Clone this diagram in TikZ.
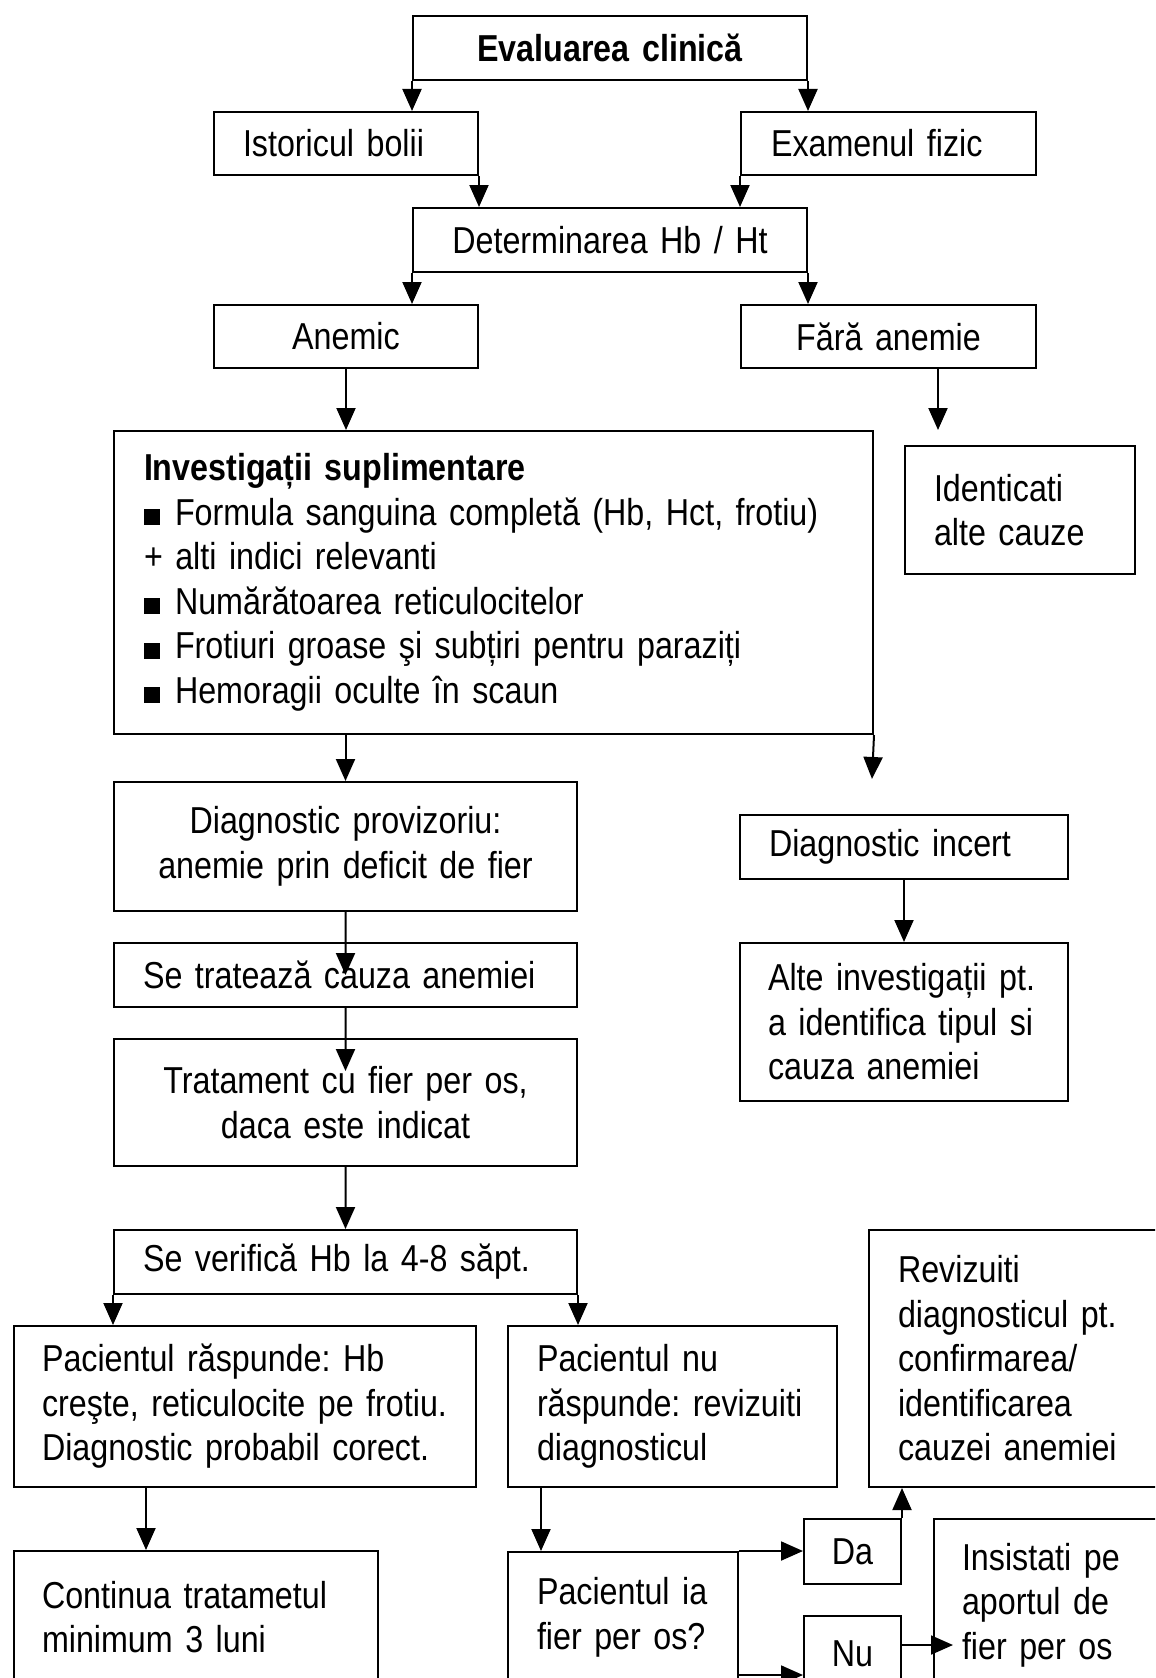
\documentclass[tikz,border=0pt]{standalone}
\usepackage{fontspec}
\setmainfont{Liberation Sans}[FakeStretch=0.86]
\usetikzlibrary{arrows.meta,calc}
\newcommand{\bul}{\rule{16bp}{16bp}\hspace{15bp}}
\frenchspacing
\begin{document}
\begin{tikzpicture}[x=1bp,y=-1bp,
  box/.style={draw,line width=2bp,inner ysep=0pt,anchor=north west,
    font=\fontsize{37.5bp}{44.5bp}\selectfont\frenchspacing},
  arr/.style={line width=2bp,-{Triangle[length=22bp,width=19bp]}}]
\useasboundingbox (0,0) rectangle (1155,1678);
\fill[white] (0,0) rectangle (1155,1678);
\clip (0,0) rectangle (1155,1678);

\node[box,inner xsep=10bp,text width=374bp,minimum height=64bp,align=center,font=\fontsize{37.5bp}{44.5bp}\selectfont\bfseries] (eval) at (412,15) {Evaluarea clinică};
\node[box,inner xsep=29bp,text width=206bp,minimum height=63bp,align=left] (ist) at (213,111) {Istoricul bolii};
\node[box,inner xsep=30bp,text width=235bp,minimum height=63bp,align=left] (exam) at (740,111) {Examenul fizic};
\node[box,inner xsep=10bp,text width=374bp,minimum height=64bp,align=center] (det) at (412,207) {Determinarea Hb / Ht};
\node[box,inner xsep=10bp,text width=244bp,minimum height=63bp,align=center] (anem) at (213,304) {Anemic};
\node[box,inner xsep=10bp,text width=275bp,minimum height=63bp,align=center] (fara) at (740,304) {Fără anemie};
\node[box,inner xsep=30bp,text width=699bp,minimum height=303bp,align=left] (inv) at (113,430) {\textbf{Investigații suplimentare}\\
\mbox{\bul Formula sanguina completă (Hb, Hct, frotiu)}\\
+ alti indici relevanti\\
\bul Numărătoarea reticulocitelor\\
\bul Frotiuri groase şi subțiri pentru paraziți\\
\bul Hemoragii oculte în scaun};
\node[box,inner xsep=29bp,text width=172bp,minimum height=128bp,align=left] (ident) at (904,445) {Identicati\\alte cauze};
\node[box,inner xsep=10bp,text width=443bp,minimum height=129bp,align=center] (diagp) at (113,781) {Diagnostic provizoriu:\\anemie prin deficit de fier};
\node[box,inner xsep=29bp,text width=270bp,minimum height=64bp,align=left] (diagi) at (739,814) {Diagnostic incert};
\node[box,inner xsep=28bp,text width=272bp,minimum height=158bp,align=left] (alte) at (739,942) {\makebox[272bp][s]{Alte investigații pt.}\\\makebox[272bp][s]{a identifica tipul si}\\cauza anemiei};
\node[box,inner xsep=29bp,text width=405bp,minimum height=64bp,align=left] (setrat) at (113,942) {Se tratează cauza anemiei};
\node[box,inner xsep=10bp,text width=443bp,minimum height=127bp,align=center] (trat) at (113,1038) {Tratament cu fier per os,\\daca este indicat};
\node[box,inner xsep=29bp,text width=405bp,minimum height=64bp,align=left] (verif) at (113,1229) {Se verifică Hb la 4-8 săpt.};
\node[box,inner xsep=28bp,text width=406bp,minimum height=161bp,align=left] (pacr) at (13,1325) {\mbox{Pacientul răspunde: Hb}\\\mbox{creşte, reticulocite pe frotiu.}\\\mbox{Diagnostic probabil corect.}};
\node[box,inner xsep=29bp,text width=271bp,minimum height=161bp,align=left] (pacn) at (507,1325) {Pacientul nu\\\mbox{răspunde: revizuiti}\\diagnosticul};
\node[box,inner xsep=29bp,text width=262bp,minimum height=257bp,align=left] (reviz) at (868,1229) {Revizuiti\\diagnosticul pt.\\confirmarea/\\identificarea\\cauzei anemiei};
\node[box,inner xsep=28bp,text width=308bp,minimum height=132bp,align=left] (cont) at (13,1550) {Continua tratametul\\minimum 3 luni};
\node[box,inner xsep=29bp,text width=172bp,minimum height=131bp,align=left] (pacia) at (507,1551) {\mbox{Pacientul ia}\\\mbox{fier per os?}};
\node[box,inner xsep=5bp,text width=87bp,minimum height=65bp,align=center] (da) at (803,1518) {Da};
\node[box,inner xsep=5bp,text width=87bp,minimum height=75bp,align=center] (nu) at (803,1615) {Nu};
\node[box,inner xsep=28bp,text width=194bp,minimum height=172bp,align=left] (insis) at (933,1518) {Insistati pe\\aportul de\\fier per os};

\coordinate (faraend) at (938,430);
\coordinate (invend) at (872,779);
\coordinate (pacrout) at ($(pacr.south west)+(133,0)$);
\coordinate (pacnout) at ($(pacn.south west)+(34,0)$);
\coordinate (nuout) at ($(nu.north east)+(0,30)$);
\coordinate (iaout) at ($(pacia.north east)+(0,124)$);

\draw[arr] (eval.south west) -- (eval.south west |- ist.north);
\draw[arr] (eval.south east) -- (eval.south east |- exam.north);
\draw[arr] (ist.south east) -- (ist.south east |- det.north);
\draw[arr] (exam.south west) -- (exam.south west |- det.north);
\draw[arr] (det.south west) -- (det.south west |- anem.north);
\draw[arr] (det.south east) -- (det.south east |- fara.north);
\draw[arr] (anem.south) -- (anem.south |- inv.north);
\draw[arr] (faraend |- fara.south) -- (faraend);
\draw[arr] (inv.south -| diagp.north) -- (diagp.north);
\draw[arr] (inv.south east) -- (invend);
\draw[arr] (diagi.south -| alte.north) -- (alte.north);
\draw[arr] (diagp.south) -- ($(setrat.north)+(0,33)$);
\draw[arr] (setrat.south) -- ($(trat.north)+(0,33)$);
\draw[arr] (trat.south) -- (verif.north);
\draw[arr] (verif.south west) -- (verif.south west |- pacr.north);
\draw[arr] (verif.south east) -- (verif.south east |- pacn.north);
\draw[arr] (pacrout) -- (pacrout |- cont.north);
\draw[arr] (pacnout) -- (pacnout |- pacia.north);
\draw[arr] (pacia.north east) -- (pacia.north east -| da.west);
\draw[arr] (da.north east) -- (da.north east |- reviz.south);
\draw[arr] (nuout) -- ($(nuout -| insis.west)+(20,0)$);
\draw[arr] (iaout) -- (iaout -| nu.west);
\end{tikzpicture}
\end{document}
